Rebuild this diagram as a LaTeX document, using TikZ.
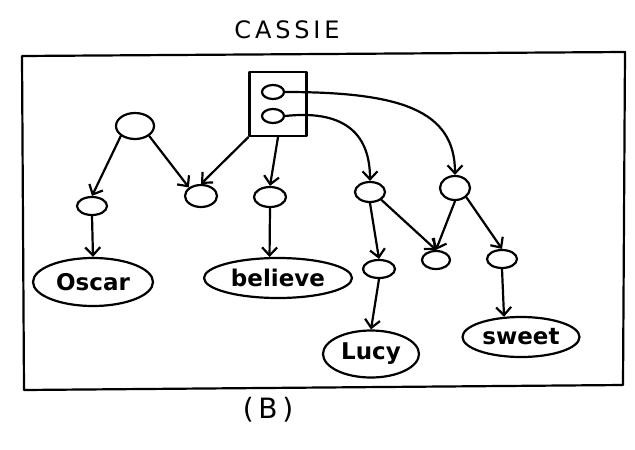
\documentclass[tikz,border=0pt]{standalone}
\usepackage{fontspec}
\setsansfont{DejaVu Sans}
\usetikzlibrary{arrows.meta,shapes.geometric}
\begin{document}
\begin{tikzpicture}[x=1pt,y=-1pt,line width=2.2pt,line cap=round,line join=round,
  blob/.style={draw,ellipse,inner sep=0pt},
  word/.style={draw,ellipse,inner sep=0pt,font=\sffamily\bfseries\fontsize{23}{25}\selectfont},
  arr/.style={-{Straight Barb[length=8pt,width=15pt]}},
  label/.style={font=\sffamily\fontsize{24}{26}\selectfont}]
  \useasboundingbox (0,0) rectangle (635,450);

  % title and caption
  \node[label] (title) at (287,30) {\addfontfeatures{LetterSpace=16}CASSIE};
  \node[label,font=\sffamily\fontsize{28}{30}\selectfont] (cap) at (268,410) {(\,B\,)};

  % outer frame
  \draw (22,56) -- (625,52) -- (623,385) -- (24,390) -- cycle;

  % case frame with two slots
  \node[draw,minimum width=57pt,minimum height=64pt,inner sep=0pt] (box) at (278,104) {};
  \node[blob,minimum width=22pt,minimum height=14pt] (p) at (273,92) {};
  \node[blob,minimum width=22pt,minimum height=14pt] (q) at (273,116) {};

  % small nodes
  \node[blob,minimum width=38pt,minimum height=26pt] (m)  at (135,126) {};
  \node[blob,minimum width=30pt,minimum height=18pt] (a1) at (92,206) {};
  \node[blob,minimum width=32pt,minimum height=22pt] (a2) at (201,196) {};
  \node[blob,minimum width=32pt,minimum height=20pt] (a3) at (270,197) {};
  \node[blob,minimum width=30pt,minimum height=20pt] (b1) at (370,192) {};
  \node[blob,minimum width=30pt,minimum height=24pt] (b2) at (455,188) {};
  \node[blob,minimum width=32pt,minimum height=18pt] (c1) at (379,269) {};
  \node[blob,minimum width=28pt,minimum height=18pt] (c2) at (436,260) {};
  \node[blob,minimum width=30pt,minimum height=18pt] (c3) at (502,259) {};

  % word nodes
  \node[word,minimum width=120pt,minimum height=48pt] (oscar) at (93,282) {Oscar};
  \node[word,minimum width=148pt,minimum height=40pt] (believe) at (278,278) {believe};
  \node[word,minimum width=96pt,minimum height=47pt] (lucy) at (371,354) {Lucy};
  \node[word,minimum width=117pt,minimum height=40pt] (sweet) at (521,337) {sweet};

  % connectors
  \draw[arr] (m.south west) -- (a1.north);
  \draw[arr] (m.south east) -- (a2.north west);
  \draw[arr] (box.south west) -- (a2.north);
  \draw[arr] (box.south) -- (a3.north);
  \draw[arr] (p.east) .. controls (400,92) and (455,110) .. (b2.north);
  \draw[arr] (q.east) .. controls (340,110) and (370,130) .. (b1.north);
  \draw[arr] (b1.south) -- (c1.north);
  \draw[arr] (b1.south east) -- (c2.north);
  \draw[arr] (b2.south) -- (c2.north);
  \draw[arr] (b2.south east) -- (c3.north);
  \draw[arr] (a1.south) -- (oscar.north);
  \draw[arr] (a3.south) -- (believe.112);
  \draw[arr] (c1.south) -- (lucy.north);
  \draw[arr] (c3.south) -- (sweet.130);
\end{tikzpicture}
\end{document}
